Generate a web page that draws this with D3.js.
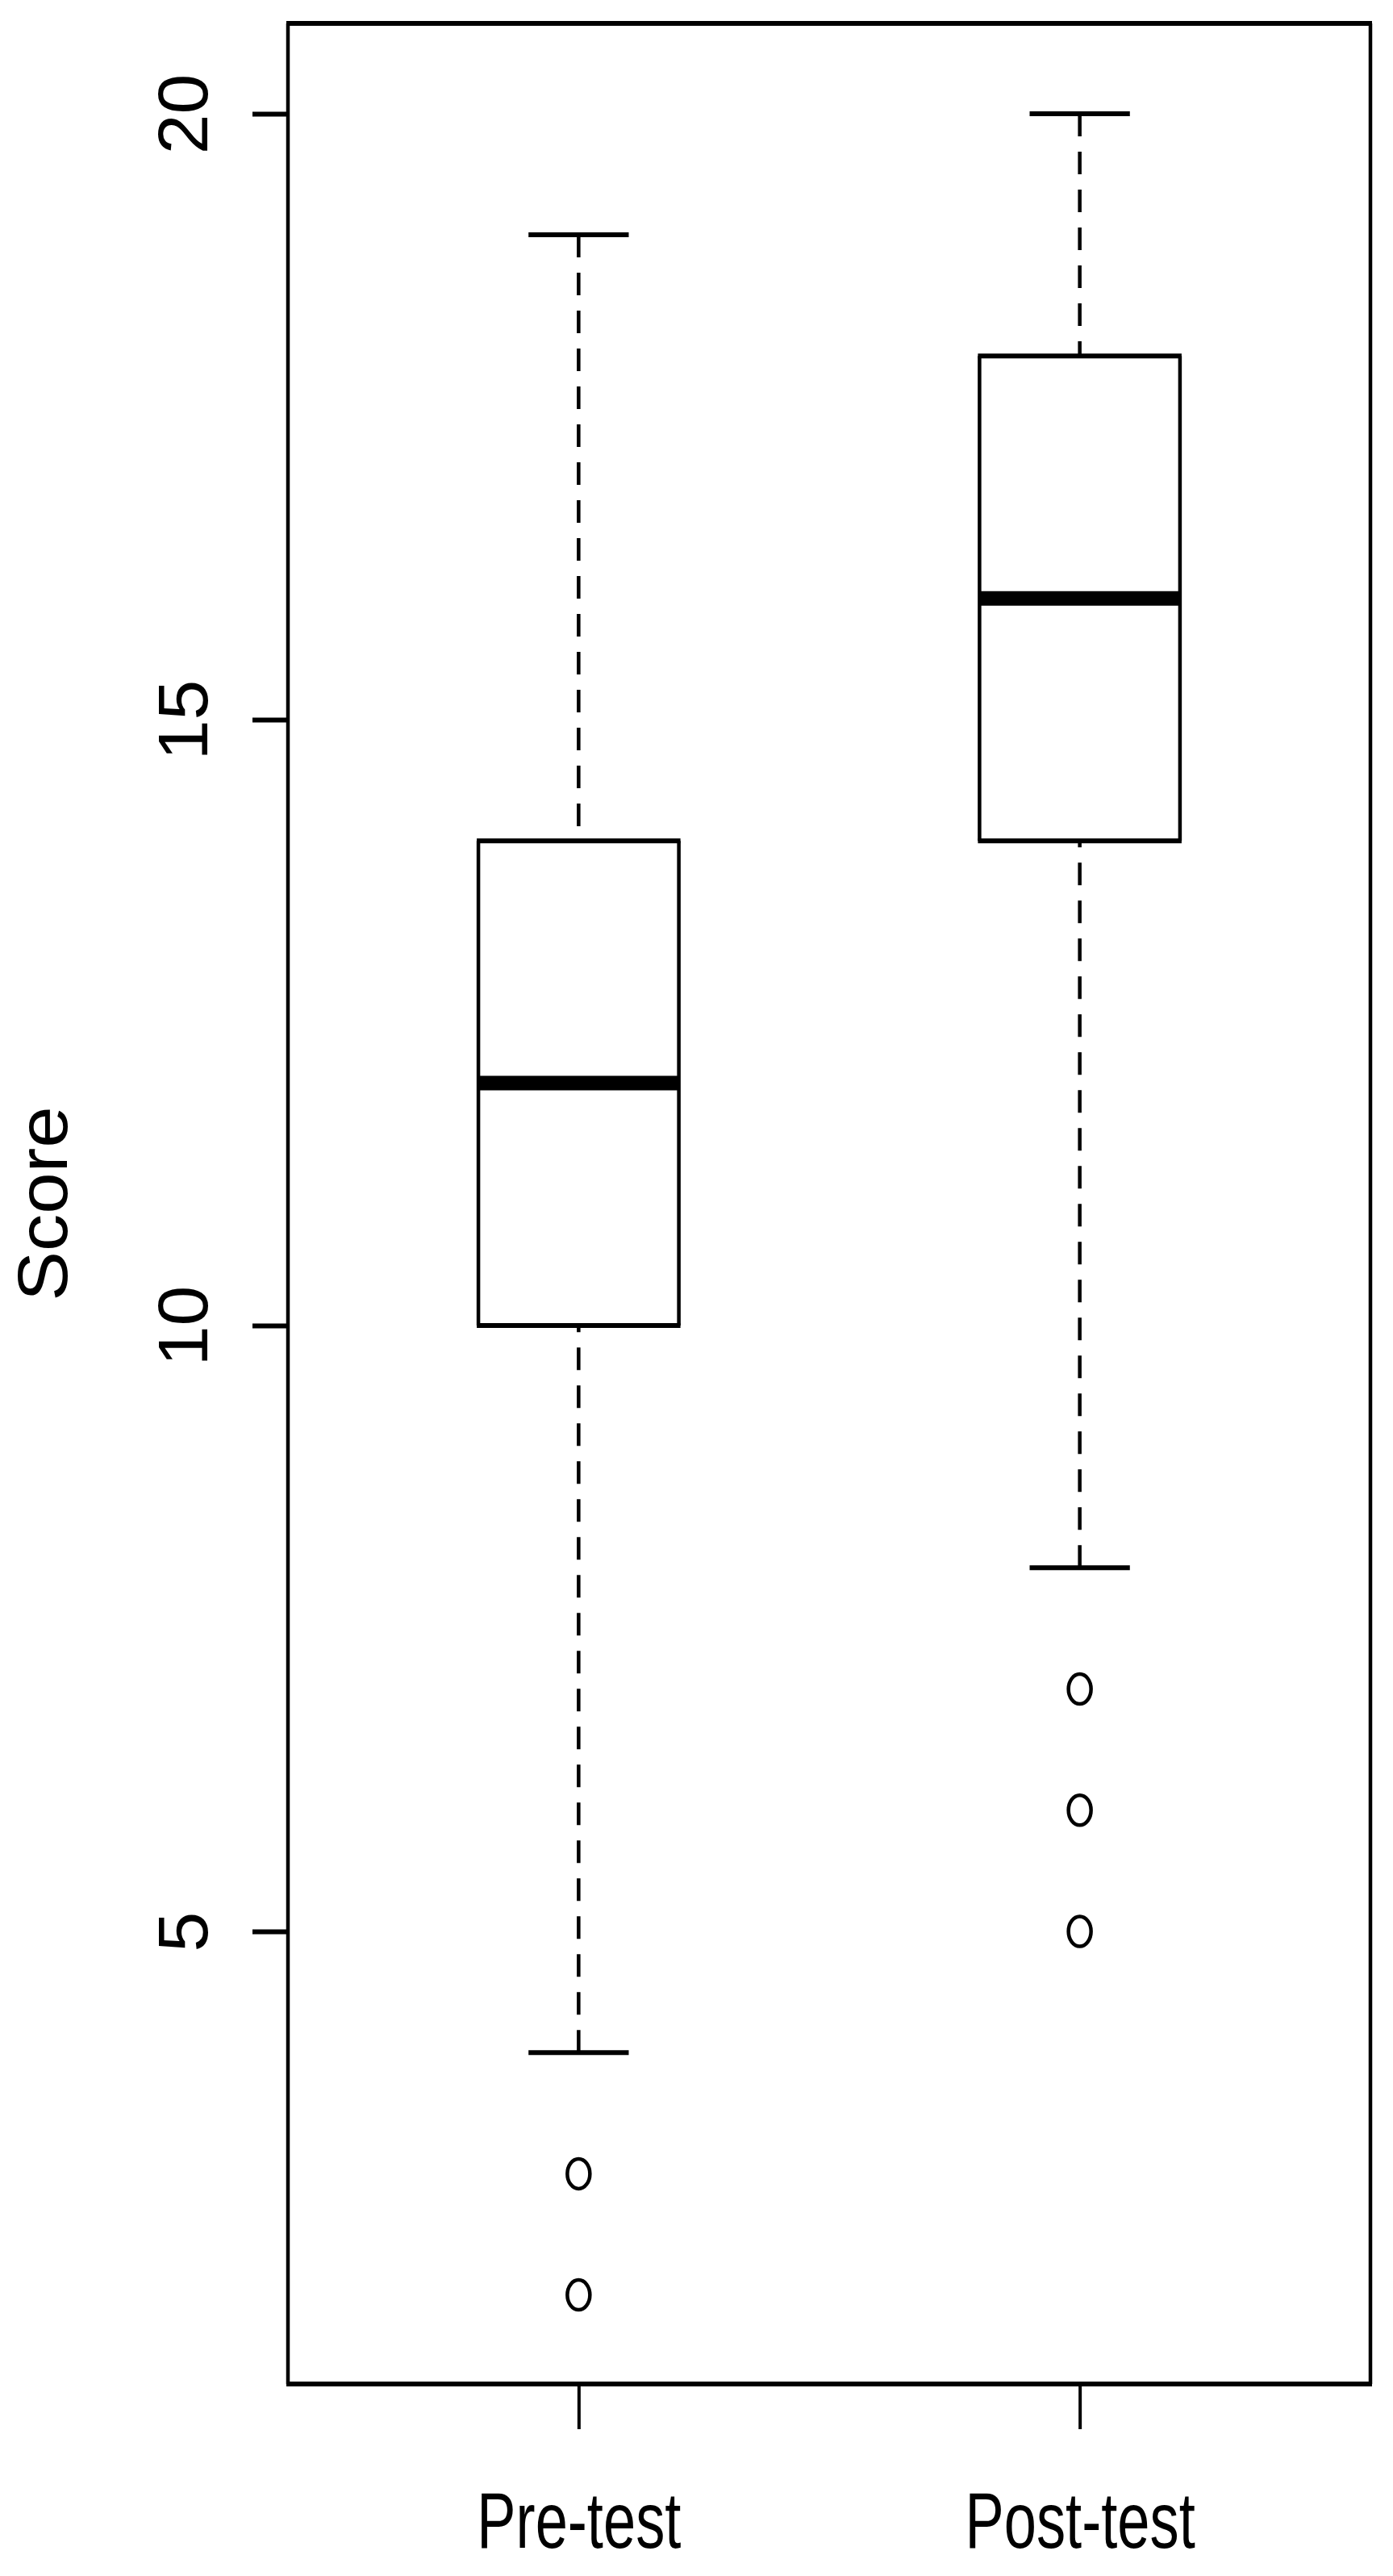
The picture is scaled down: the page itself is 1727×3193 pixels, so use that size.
<!DOCTYPE html>
<html>
<head>
<meta charset="utf-8">
<script src="https://cdn.jsdelivr.net/npm/d3@7"></script>
<style>
  body { margin: 0; background: #fff; }
  svg { display: block; }
</style>
</head>
<body>
<div id="chart"></div>
<script>
// box plot data
const groups = ["Pre-test", "Post-test"];
const lowerWhisker = [4, 8];
const q1 = [10, 14];
const median = [12, 16];
const q3 = [14, 18];
const upperWhisker = [19, 20];
const outliers = [[3, 2], [7, 6, 5]];
const yTicks = [5, 10, 15, 20];

function drawChart() {
    let svgWidth = 1727;
    let svgHeight = 3193;

    let svg = d3.select("#chart")
        .append("svg")
        .attr("width", svgWidth)
        .attr("height", svgHeight);

    svg.append("rect")
        .attr("width", svgWidth)
        .attr("height", svgHeight)
        .attr("fill", "#fff");

    // plot region edges
    let left = 357, right = 1699, top = 29, bottom = 2955;

    // scales, R style: extended 4% beyond the data range
    let x = d3.scaleLinear()
        .domain([0.42, 2.58])
        .range([left, right]);

    let y = d3.scaleLinear()
        .domain([1.265, 20.745])
        .range([bottom, top]);

    let boxHalf = 0.2;
    let capHalf = 0.1;

    let data = groups.map((g, i) => ({
        name: g,
        pos: i + 1,
        lo: lowerWhisker[i],
        q1: q1[i],
        med: median[i],
        q3: q3[i],
        hi: upperWhisker[i],
        out: outliers[i]
    }));

    let plot = svg.append("g");

    // whiskers (dashed), drawn from the end toward the box
    data.forEach(d => {
        [[d.hi, d.q3], [d.lo, d.q1]].forEach(([from, to]) => {
            plot.append("line")
                .attr("x1", x(d.pos)).attr("x2", x(d.pos))
                .attr("y1", y(from)).attr("y2", y(to))
                .attr("stroke", "#000")
                .attr("stroke-width", 4.5)
                .attr("stroke-dasharray", "28,19");
        });
        // staples
        [d.hi, d.lo].forEach(v => {
            plot.append("line")
                .attr("x1", x(d.pos - capHalf)).attr("x2", x(d.pos + capHalf))
                .attr("y1", y(v)).attr("y2", y(v))
                .attr("stroke", "#000")
                .attr("stroke-width", 6);
        });
    });

    // boxes
    let boxes = plot.selectAll(".box")
        .data(data)
        .enter()
        .append("g")
        .attr("class", "box");

    boxes.append("rect")
        .attr("x", d => x(d.pos - boxHalf))
        .attr("y", d => y(d.q3))
        .attr("width", d => x(d.pos + boxHalf) - x(d.pos - boxHalf))
        .attr("height", d => y(d.q1) - y(d.q3))
        .attr("fill", "#fff");

    boxes.each(function (d) {
        let g = d3.select(this);
        let x0 = x(d.pos - boxHalf), x1 = x(d.pos + boxHalf);
        // horizontal edges
        [d.q3, d.q1].forEach(v => {
            g.append("line")
                .attr("x1", x0 - 2).attr("x2", x1 + 2)
                .attr("y1", y(v)).attr("y2", y(v))
                .attr("stroke", "#000").attr("stroke-width", 6);
        });
        // vertical edges
        [x0, x1].forEach(xx => {
            g.append("line")
                .attr("x1", xx).attr("x2", xx)
                .attr("y1", y(d.q3)).attr("y2", y(d.q1))
                .attr("stroke", "#000").attr("stroke-width", 4.5);
        });
        // median
        g.append("line")
            .attr("x1", x0).attr("x2", x1)
            .attr("y1", y(d.med)).attr("y2", y(d.med))
            .attr("stroke", "#000").attr("stroke-width", 18);
    });

    // outliers
    data.forEach(d => {
        plot.selectAll(null)
            .data(d.out)
            .enter()
            .append("ellipse")
            .attr("cx", x(d.pos))
            .attr("cy", v => y(v))
            .attr("rx", 14)
            .attr("ry", 18.5)
            .attr("fill", "none")
            .attr("stroke", "#000")
            .attr("stroke-width", 4.5);
    });

    // frame
    let frame = svg.append("g").attr("stroke", "#000");
    frame.append("line").attr("x1", left - 2).attr("x2", right + 2).attr("y1", top).attr("y2", top).attr("stroke-width", 6);
    frame.append("line").attr("x1", left - 2).attr("x2", right + 2).attr("y1", bottom).attr("y2", bottom).attr("stroke-width", 6);
    frame.append("line").attr("x1", left).attr("x2", left).attr("y1", top).attr("y2", bottom).attr("stroke-width", 4.5);
    frame.append("line").attr("x1", right).attr("x2", right).attr("y1", top).attr("y2", bottom).attr("stroke-width", 4.5);

    // y axis
    let yAxis = svg.append("g")
        .attr("transform", `translate(${left}, 0)`)
        .call(d3.axisLeft(y).tickValues(yTicks).tickSize(44).tickFormat(d3.format("d")));
    yAxis.select(".domain").remove();
    yAxis.selectAll(".tick line").attr("stroke", "#000").attr("stroke-width", 6);
    yAxis.selectAll(".tick text")
        .attr("x", 0).attr("y", 0).attr("dy", null)
        .attr("fill", "#000")
        .attr("text-anchor", "middle")
        .attr("font-family", "'Liberation Sans', Arial, sans-serif")
        .attr("font-size", 87)
        .attr("transform", "translate(-100, 0) rotate(-90) scale(1.03, 1)");

    // x axis
    let xAxis = svg.append("g")
        .attr("transform", `translate(0, ${bottom})`)
        .call(d3.axisBottom(x).tickValues([1, 2]).tickSize(56).tickFormat(d => groups[d - 1]));
    xAxis.select(".domain").remove();
    xAxis.selectAll(".tick line").attr("stroke", "#000").attr("stroke-width", 4);
    xAxis.selectAll(".tick text")
        .attr("x", 0).attr("y", 0).attr("dy", null)
        .attr("fill", "#000")
        .attr("text-anchor", "middle")
        .attr("font-family", "'Liberation Sans', Arial, sans-serif")
        .attr("font-size", 99)
        .attr("transform", "translate(0, 203) scale(0.73, 1)");

    // y axis title
    svg.append("text")
        .attr("transform", `translate(83, ${(top + bottom) / 2}) rotate(-90) scale(1.05, 1)`)
        .attr("text-anchor", "middle")
        .attr("font-family", "'Liberation Sans', Arial, sans-serif")
        .attr("font-size", 88)
        .attr("fill", "#000")
        .text("Score");
}

drawChart();
</script>
</body>
</html>
